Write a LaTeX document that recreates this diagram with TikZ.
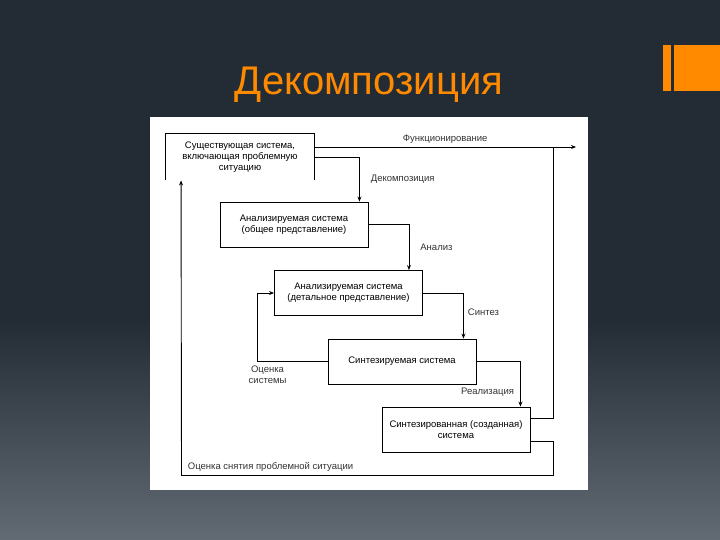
\documentclass[tikz,border=0pt]{standalone}
\usepackage{fontspec}
\setmainfont{Liberation Sans}
\usetikzlibrary{arrows,arrows.meta,positioning,calc}

\definecolor{slidetop}{HTML}{232C35}
\definecolor{slidebot}{HTML}{626B73}
\definecolor{accent}{HTML}{FF8A00}
\newcommand{\diagfont}{\fontsize{9.5}{11}\selectfont}

\begin{document}
\begin{tikzpicture}[x=1pt, y=-1pt,
        box/.style={rectangle, draw=black, fill=white, line width=0.9pt, minimum width=148pt, minimum height=45pt, align=center, inner sep=2pt, font=\diagfont},
        lbl/.style={font=\diagfont, text=black!80, inner sep=1pt},
        arrow/.style={->, >={Stealth[length=5pt, width=4pt]}, line width=0.9pt}
    ]
    \useasboundingbox (0,0) rectangle (720,540);

    % slide background
    \fill[slidetop] (0,0) rectangle (720,540);
    \shade[top color=slidetop, bottom color=slidebot] (0,320) rectangle (720,540);
    \fill[accent] (663,45) rectangle (671,91);
    \fill[accent] (674,45) rectangle (720,91);
    \node[text=accent, font=\fontsize{40}{46}\selectfont, anchor=base] (title) at (369,95) {Декомпозиция};
    \fill[white] (150,117) rectangle (588,490);

    % boxes
    \node[box, draw=none, minimum height=46pt] (existing) at (240,157) {Существующая система,\\включающая проблемную\\ситуацию};
    \draw[line width=0.9pt] (existing.south west) -- (existing.north west) -- (existing.north east) -- (existing.south east);
    \node[box] (general) at (294,224.5) {Анализируемая система\\(общее представление)};
    \node[box] (detailed) at (348.5,293) {Анализируемая система\\(детальное представление)};
    \node[box] (synth) at (402,361.5) {Синтезируемая система};
    \node[box] (created) at (456,429.5) {Синтезированная (созданная)\\система};

    \coordinate (fend) at (576,147);
    \coordinate (fjoin) at (553.5,147);
    \coordinate (br) at (553.5,475.5);
    \coordinate (bl) at (181.5,475.5);

    % connectors
    \draw[arrow] ([yshift=10pt]existing.east) -- node[lbl, above=2pt] (lfunc) {Функционирование} (fend);
    \draw[arrow] (existing.east) -| node[lbl, right=10pt, pos=0.75] (ldecomp) {Декомпозиция} ([xshift=-9pt]general.north east);
    \draw[arrow] (general.east) -| node[lbl, right=10pt, pos=0.75] (lanal) {Анализ} ([xshift=-14pt]detailed.north east);
    \draw[arrow] (detailed.east) -| node[lbl, right=3pt, pos=0.71] (lsynth) {Синтез} ([xshift=-13pt]synth.north east);
    \draw[arrow] (synth.east) -| node[lbl, left=5pt, pos=0.84] (lreal) {Реализация} ([xshift=-10pt]created.north east);
    \draw[arrow] (synth.west) -- ++(-70,0) node[lbl, below=3pt, xshift=10pt, align=center] (leval) {Оценка\\системы} |- (detailed.west);
    \draw[line width=0.9pt] ([yshift=11pt]created.east) -| (fjoin);
    \draw[arrow] ([yshift=-12pt]created.east) -| (br) -- node[lbl, above right=3pt and 5pt, pos=1] (lsolve) {Оценка снятия проблемной ситуации} (bl) -- ([xshift=15.5pt]existing.south west);

\end{tikzpicture}
\end{document}
